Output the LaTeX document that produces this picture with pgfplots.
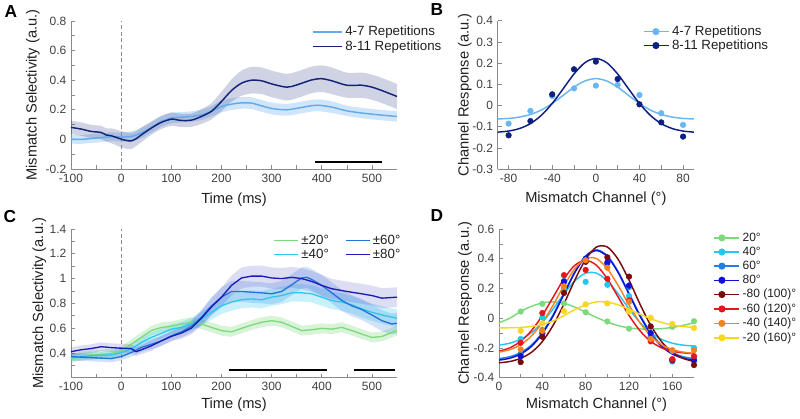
\documentclass[border=0pt]{standalone}
\usepackage{pgfplots}
\pgfplotsset{compat=1.18}
\usepgfplotslibrary{fillbetween}
\usepackage{pgfplotstable}
\usepackage{fontspec}
\setmainfont{Liberation Sans}

\definecolor{axgray}{HTML}{8A8A8A}
\definecolor{tickgray}{HTML}{404040}
\definecolor{labgray}{HTML}{202020}
\definecolor{Alight}{HTML}{64AAEB}
\definecolor{Adark}{HTML}{142378}
\definecolor{Blight}{HTML}{6BB5F0}
\definecolor{Bdark}{HTML}{0D1F80}
\definecolor{Cgreen}{HTML}{7ED87E}
\definecolor{Ccyan}{HTML}{2CC8F0}
\definecolor{Cmed}{HTML}{2573D9}
\definecolor{Cdark}{HTML}{1A1AB8}
\definecolor{Dgreen}{HTML}{7ED87E}
\definecolor{Dcyan}{HTML}{22C8F0}
\definecolor{Dsixty}{HTML}{2080E8}
\definecolor{Deighty}{HTML}{1010D8}
\definecolor{Ddred}{HTML}{7A0A0A}
\definecolor{Dred}{HTML}{E8141E}
\definecolor{Dorange}{HTML}{F58220}
\definecolor{Dyellow}{HTML}{F8D81E}

% ---------- Panel A data ----------
\pgfplotstableread{
x y e
-100 0.002 0.03
-80 0.0 0.03
-50 0.009 0.03
-20 0.018 0.03
0 0.016 0.03
20 0.02 0.035
40 0.043 0.035
60 0.08 0.035
80 0.12 0.035
100 0.144 0.035
120 0.15 0.035
140 0.155 0.035
160 0.166 0.035
180 0.19 0.035
200 0.222 0.04
220 0.238 0.04
240 0.247 0.04
260 0.245 0.04
280 0.227 0.04
300 0.209 0.04
330 0.2 0.04
360 0.216 0.04
390 0.231 0.04
420 0.218 0.04
450 0.193 0.035
480 0.178 0.035
520 0.164 0.035
550 0.155 0.035
}\tAl
\pgfplotstableread{
x y e
-100 0.081 0.045
-80 0.07 0.045
-60 0.054 0.045
-40 0.047 0.045
-30 0.03 0.045
-20 0.025 0.05
0 0.002 0.055
10 -0.007 0.055
20 -0.01 0.055
30 0.005 0.05
40 0.03 0.05
60 0.076 0.045
80 0.115 0.045
100 0.137 0.045
110 0.133 0.045
120 0.128 0.045
140 0.13 0.045
160 0.155 0.05
180 0.19 0.055
200 0.256 0.065
220 0.33 0.075
240 0.38 0.085
260 0.40 0.09
280 0.396 0.09
300 0.375 0.09
330 0.353 0.09
350 0.368 0.09
380 0.402 0.09
400 0.41 0.09
420 0.396 0.09
450 0.366 0.085
480 0.366 0.085
500 0.353 0.085
520 0.33 0.085
550 0.29 0.085
}\tAd

% ---------- Panel C data ----------
\pgfplotstableread{
x y e
-100 0.354 0.035
-80 0.376 0.035
-60 0.384 0.035
-40 0.389 0.035
-20 0.395 0.035
0 0.416 0.035
20 0.47 0.04
40 0.525 0.04
60 0.58 0.04
80 0.606 0.04
100 0.614 0.04
120 0.633 0.04
140 0.647 0.04
160 0.633 0.04
180 0.606 0.04
200 0.58 0.04
220 0.57 0.04
240 0.598 0.04
260 0.625 0.04
280 0.647 0.04
300 0.66 0.04
320 0.647 0.04
340 0.614 0.04
360 0.58 0.04
380 0.587 0.04
400 0.598 0.04
420 0.592 0.04
440 0.606 0.04
460 0.58 0.04
480 0.552 0.04
500 0.525 0.04
520 0.533 0.04
540 0.565 0.04
550 0.58 0.04
}\tCg
\pgfplotstableread{
x y e
-100 0.362 0.03
-60 0.376 0.03
-20 0.384 0.03
0 0.403 0.03
20 0.43 0.035
40 0.484 0.035
60 0.525 0.04
80 0.557 0.04
100 0.592 0.04
120 0.606 0.045
140 0.633 0.05
160 0.674 0.055
180 0.728 0.06
200 0.78 0.065
220 0.81 0.07
240 0.83 0.07
260 0.836 0.07
280 0.828 0.07
300 0.85 0.07
320 0.863 0.07
340 0.885 0.07
360 0.885 0.07
380 0.877 0.07
400 0.85 0.07
420 0.823 0.07
440 0.81 0.07
460 0.788 0.07
480 0.755 0.07
500 0.728 0.07
520 0.706 0.07
550 0.68 0.07
}\tCc
\pgfplotstableread{
x y e
-100 0.37 0.03
-60 0.362 0.03
-20 0.354 0.03
0 0.37 0.03
20 0.403 0.035
40 0.443 0.035
60 0.47 0.04
80 0.497 0.04
100 0.538 0.04
120 0.57 0.045
140 0.614 0.05
160 0.687 0.06
180 0.78 0.07
200 0.85 0.08
220 0.896 0.085
240 0.896 0.085
260 0.89 0.085
280 0.885 0.085
300 0.877 0.085
320 0.896 0.085
340 0.95 0.085
360 1.005 0.085
370 1.01 0.085
380 0.993 0.085
400 0.945 0.085
420 0.885 0.085
440 0.823 0.085
460 0.78 0.085
480 0.75 0.085
500 0.706 0.085
520 0.66 0.085
540 0.633 0.085
550 0.64 0.085
}\tCm
\pgfplotstableread{
x y e
-100 0.41 0.035
-80 0.425 0.035
-60 0.435 0.035
-40 0.45 0.035
-20 0.443 0.035
0 0.438 0.035
20 0.435 0.035
30 0.41 0.035
40 0.425 0.035
60 0.457 0.04
80 0.497 0.04
100 0.533 0.04
120 0.56 0.045
140 0.6 0.05
160 0.68 0.06
180 0.77 0.07
200 0.85 0.075
220 0.945 0.08
240 1.005 0.085
260 1.02 0.085
280 1.02 0.085
300 1.005 0.085
320 1.0 0.085
340 1.01 0.085
360 1.0 0.085
380 0.977 0.085
400 0.945 0.085
420 0.918 0.08
450 0.896 0.08
480 0.877 0.08
500 0.863 0.08
520 0.842 0.08
550 0.85 0.08
}\tCd

\newcommand{\band}[5]{%
  \addplot[name path=#1u, draw=none, forget plot, #5] table[x=x, y expr=\thisrow{y}+\thisrow{e}] {#2};
  \addplot[name path=#1l, draw=none, forget plot, #5] table[x=x, y expr=\thisrow{y}-\thisrow{e}] {#2};
  \addplot[fill=#3, fill opacity=#4, draw=none, forget plot] fill between[of=#1u and #1l];
}

\pgfplotsset{
  panel/.style={
    scale only axis,
    anchor=south west,
    axis x line*=bottom, axis y line*=left,
    tick align=inside,
    axis line style={draw=axgray, line width=0.5pt},
    every tick/.style={draw=axgray, line width=0.5pt},
    major tick length=3pt, minor tick length=3pt,
    ticklabel style={font=\fontsize{9}{10}\selectfont, text=tickgray},
    label style={font=\fontsize{11}{12}\selectfont, text=labgray},
    /pgf/number format/assume math mode=true,
    legend style={draw=none, fill=none, font=\fontsize{10}{11}\selectfont, text=labgray, inner sep=0pt, row sep=-1.8pt},
    legend cell align=left,
    clip=false,
  },
}

\begin{document}
\begin{tikzpicture}

% ================= Panel A =================
\begin{axis}[panel, at={(53.25pt,186.75pt)}, width=244.5pt, height=111pt,
  xmin=-100, xmax=550, ymin=-0.2, ymax=0.8,
  xtick={-100,0,100,200,300,400,500}, minor x tick num=1,
  ytick={-0.2,0,0.2,0.4,0.6,0.8}, minor y tick num=1,
  xlabel={Time (ms)}, ylabel={Mismatch Selectivity (a.u.)},
  xlabel style={at={(axis description cs:0.5,-0.21)}, anchor=center},
  ylabel style={at={(axis description cs:-0.117,0.5)}, anchor=center},
  legend style={at={(axis description cs:0.738,0.985)}, anchor=north west},
  legend image code/.code={\draw[#1] (0pt,0pt) -- (22pt,0pt);},
]
\band{al}{\tAl}{Alight}{0.3}{smooth}
\band{ad}{\tAd}{Adark}{0.2}{smooth}
\addplot[densely dashed, axgray, line width=0.5pt, forget plot] coordinates {(0,-0.2) (0,0.8)};
\addplot[Alight, line width=1.1pt, smooth] table[x=x, y=y] {\tAl};
\addlegendentry{4-7 Repetitions}
\addplot[Adark, line width=1.1pt, smooth] table[x=x, y=y] {\tAd};
\addlegendentry{8-11 Repetitions}
\addplot[black, line width=1.5pt, forget plot] coordinates {(387,-0.15) (520,-0.15)};
\end{axis}

% ================= Panel B =================
\begin{axis}[panel, at={(373.28pt,186.53pt)}, width=147.2pt, height=111.5pt,
  xmin=-90, xmax=90, ymin=-0.3, ymax=0.4,
  xtick={-80,-40,0,40,80}, minor x tick num=1,
  ytick={-0.3,-0.2,-0.1,0,0.1,0.2,0.3,0.4},
  xlabel={Mismatch Channel (°)}, ylabel={Channel Response (a.u.)},
  xlabel style={at={(axis description cs:0.5,-0.195)}, anchor=center},
  ylabel style={at={(axis description cs:-0.167,0.5)}, anchor=center},
  legend style={at={(axis description cs:0.74,0.985)}, anchor=north west, row sep=-2.3pt},
  legend image code/.code={\draw[#1] (0pt,0pt) -- (18.5pt,0pt); \fill[#1] (9pt,0pt) circle (2.1pt);},
]
\addplot[Blight, line width=1.1pt, smooth] coordinates {
(-90,-0.063) (-80,-0.0605) (-70,-0.054) (-60,-0.042) (-50,-0.021) (-40,0.010) (-30,0.048) (-20,0.087) (-10,0.116) (0,0.127)
(10,0.116) (20,0.087) (30,0.048) (40,0.010) (50,-0.021) (60,-0.042) (70,-0.054) (80,-0.0605) (90,-0.063)};
\addlegendentry{4-7 Repetitions}
\addplot[Bdark, line width=1.1pt, smooth] coordinates {
(-90,-0.125) (-80,-0.120) (-70,-0.108) (-60,-0.085) (-50,-0.046) (-40,0.010) (-30,0.079) (-20,0.149) (-10,0.202) (0,0.222)
(10,0.202) (20,0.149) (30,0.079) (40,0.010) (50,-0.046) (60,-0.085) (70,-0.108) (80,-0.120) (90,-0.125)};
\addlegendentry{8-11 Repetitions}
\addplot[only marks, mark=*, mark size=2.1pt, Blight, forget plot] coordinates {
(-80,-0.085) (-60,-0.025) (-40,0.045) (-20,0.081) (0,0.094) (20,0.097) (40,0.05) (60,-0.036) (80,-0.091)};
\addplot[only marks, mark=*, mark size=2.1pt, Bdark, forget plot] coordinates {
(-80,-0.14) (-60,-0.073) (-40,0.053) (-20,0.171) (0,0.207) (20,0.125) (40,0.006) (60,-0.079) (80,-0.146)};
\end{axis}

% ================= Panel C =================
\begin{axis}[panel, at={(53.25pt,30.23pt)}, width=244.5pt, height=111.5pt,
  xmin=-100, xmax=550, ymin=0.2, ymax=1.4,
  xtick={-100,0,100,200,300,400,500}, minor x tick num=1,
  ytick={0.2,0.4,0.6,0.8,1,1.2,1.4}, minor y tick num=1,
  yticklabels={,0.4,0.6,0.8,1,1.2,1.4},
  xlabel={Time (ms)}, ylabel={Mismatch Selectivity (a.u.)},
  xlabel style={at={(axis description cs:0.5,-0.185)}, anchor=center},
  ylabel style={at={(axis description cs:-0.097,0.5)}, anchor=center},
  legend columns=2,
  legend style={at={(axis description cs:0.62,0.98)}, anchor=north west, /tikz/every even column/.append style={column sep=10pt}},
  legend image code/.code={\draw[#1] (0pt,0pt) -- (18pt,0pt);},
]
\band{cg}{\tCg}{Cgreen}{0.3}{}
\band{cc}{\tCc}{Ccyan}{0.25}{}
\band{cm}{\tCm}{Cmed}{0.2}{}
\band{cd}{\tCd}{Cdark}{0.15}{}
\addplot[densely dashed, axgray, line width=0.5pt, forget plot] coordinates {(0,0.2) (0,1.4)};
\addplot[Cgreen, line width=1pt, forget plot] table[x=x, y=y] {\tCg};
\addplot[Ccyan, line width=1pt, forget plot] table[x=x, y=y] {\tCc};
\addplot[Cmed, line width=1pt, forget plot] table[x=x, y=y] {\tCm};
\addplot[Cdark, line width=1pt, forget plot] table[x=x, y=y] {\tCd};
\addlegendimage{Cgreen, line width=1pt}\addlegendentry{±20°}
\addlegendimage{Cmed, line width=1pt}\addlegendentry{±60°}
\addlegendimage{Ccyan, line width=1pt}\addlegendentry{±40°}
\addlegendimage{Cdark, line width=1pt}\addlegendentry{±80°}
\addplot[black, line width=1.5pt, forget plot] coordinates {(215,0.26) (410,0.26)};
\addplot[black, line width=1.5pt, forget plot] coordinates {(465,0.26) (547,0.26)};
\end{axis}

% ================= Panel D =================
\begin{axis}[panel, at={(374.25pt,30.23pt)}, width=146.25pt, height=111.5pt,
  xmin=0, xmax=180, ymin=-0.4, ymax=0.6,
  xtick={0,40,80,120,160}, minor x tick num=1,
  ytick={-0.4,-0.2,0,0.2,0.4,0.6}, minor y tick num=1,
  xlabel={Mismatch Channel (°)}, ylabel={Channel Response (a.u.)},
  xlabel style={at={(axis description cs:0.5,-0.185)}, anchor=center},
  ylabel style={at={(axis description cs:-0.174,0.5)}, anchor=center},
  legend style={at={(axis description cs:1.097,0.995)}, anchor=north west, font=\fontsize{9}{10}\selectfont, row sep=-1.2pt},
  legend image code/.code={\draw[#1] (0pt,0pt) -- (19pt,0pt); \fill[#1] (6pt,0pt) circle (2.1pt);},
]
\addplot[Dgreen, line width=1.1pt, smooth] coordinates {
(0,-0.03) (10,0.0) (20,0.045) (30,0.08) (40,0.103) (50,0.11) (60,0.1) (70,0.075) (80,0.04) (90,0.005)
(100,-0.025) (110,-0.05) (120,-0.065) (130,-0.072) (140,-0.073) (150,-0.07) (160,-0.062) (170,-0.048) (180,-0.03)};
\addlegendentry{20°}
\addplot[Dcyan, line width=1.1pt, smooth] coordinates {
(0,-0.181) (10,-0.168) (20,-0.142) (30,-0.097) (40,-0.028) (50,0.063) (60,0.164) (70,0.251) (80,0.303) (90,0.303)
(100,0.251) (110,0.164) (120,0.063) (130,-0.028) (140,-0.097) (150,-0.142) (160,-0.168) (170,-0.181) (180,-0.187)};
\addlegendentry{40°}
\addplot[Dsixty, line width=1.1pt, smooth] coordinates {
(0,-0.272) (10,-0.259) (20,-0.231) (30,-0.180) (40,-0.096) (50,0.024) (60,0.169) (70,0.313) (80,0.420) (90,0.46)
(100,0.420) (110,0.313) (120,0.169) (130,0.024) (140,-0.096) (150,-0.180) (160,-0.231) (170,-0.259) (180,-0.272)};
\addlegendentry{60°}
\addplot[Deighty, line width=1.1pt, smooth] coordinates {
(0,-0.282) (10,-0.269) (20,-0.241) (30,-0.189) (40,-0.104) (50,0.016) (60,0.162) (70,0.307) (80,0.415) (90,0.455)
(100,0.415) (110,0.307) (120,0.162) (130,0.016) (140,-0.104) (150,-0.189) (160,-0.241) (170,-0.269) (180,-0.282)};
\addlegendentry{80°}
\addplot[Ddred, line width=1.1pt, smooth] coordinates {
(0,-0.300) (10,-0.291) (20,-0.270) (30,-0.229) (40,-0.157) (50,-0.047) (60,0.097) (70,0.257) (80,0.396) (90,0.479)
(100,0.479) (110,0.396) (120,0.257) (130,0.097) (140,-0.047) (150,-0.157) (160,-0.229) (170,-0.270) (180,-0.291)};
\addlegendentry{-80 (100)°}
\addplot[Dred, line width=1.1pt, smooth] coordinates {
(0,-0.222) (10,-0.199) (20,-0.155) (30,-0.083) (40,0.019) (50,0.142) (60,0.265) (70,0.356) (80,0.39) (90,0.356)
(100,0.265) (110,0.142) (120,0.019) (130,-0.083) (140,-0.155) (150,-0.199) (160,-0.222) (170,-0.233) (180,-0.238)};
\addlegendentry{-60 (120)°}
\addplot[Dorange, line width=1.1pt, smooth] coordinates {
(0,-0.228) (10,-0.211) (20,-0.178) (30,-0.119) (40,-0.029) (50,0.089) (60,0.220) (70,0.333) (80,0.401) (90,0.401)
(100,0.333) (110,0.220) (120,0.089) (130,-0.029) (140,-0.119) (150,-0.178) (160,-0.211) (170,-0.228) (180,-0.236)};
\addlegendentry{-40 (140)°}
\addplot[Dyellow, line width=1.1pt, smooth] coordinates {
(0,-0.065) (10,-0.064) (20,-0.062) (30,-0.055) (40,-0.042) (50,-0.018) (60,0.018) (70,0.058) (80,0.09) (90,0.11)
(100,0.108) (110,0.09) (120,0.06) (130,0.027) (140,-0.003) (150,-0.028) (160,-0.045) (170,-0.056) (180,-0.062)};
\addlegendentry{-20 (160)°}
\addplot[only marks, mark=*, mark size=2.1pt, Dgreen, forget plot] coordinates {
(20,0.045) (40,0.097) (60,0.10) (80,0.04) (100,-0.022) (120,-0.07) (140,-0.062) (160,-0.058) (180,-0.02)};
\addplot[only marks, mark=*, mark size=2.1pt, Dcyan, forget plot] coordinates {
(20,-0.14) (40,0.005) (60,0.20) (80,0.245) (100,0.225) (120,0.15) (140,-0.10) (160,-0.22) (180,-0.20)};
\addplot[only marks, mark=*, mark size=2.1pt, Dsixty, forget plot] coordinates {
(20,-0.24) (40,-0.08) (60,0.25) (80,0.38) (100,0.37) (120,0.21) (140,-0.12) (160,-0.29) (180,-0.27)};
\addplot[only marks, mark=*, mark size=2.1pt, Deighty, forget plot] coordinates {
(20,-0.255) (40,-0.10) (60,0.245) (80,0.40) (100,0.375) (120,0.22) (140,-0.10) (160,-0.28) (180,-0.285)};
\addplot[only marks, mark=*, mark size=2.1pt, Ddred, forget plot] coordinates {
(20,-0.295) (40,-0.125) (60,0.17) (80,0.38) (100,0.41) (120,0.28) (140,-0.055) (160,-0.28) (180,-0.315)};
\addplot[only marks, mark=*, mark size=2.1pt, Dred, forget plot] coordinates {
(20,-0.165) (40,0.035) (60,0.29) (80,0.325) (100,0.265) (120,0.12) (140,-0.155) (160,-0.275) (180,-0.255)};
\addplot[only marks, mark=*, mark size=2.1pt, Dorange, forget plot] coordinates {
(20,-0.21) (40,-0.085) (60,0.215) (80,0.39) (100,0.34) (120,0.11) (140,-0.14) (160,-0.215) (180,-0.215)};
\addplot[only marks, mark=*, mark size=2.1pt, Dyellow, forget plot] coordinates {
(20,-0.085) (40,-0.035) (60,0.048) (80,0.093) (100,0.10) (120,0.045) (140,0.003) (160,-0.038) (180,-0.065)};
\end{axis}

% panel letters
\node[font=\bfseries\fontsize{13}{14}\selectfont, text=black] at (8.25pt,304.5pt) {A};
\node[font=\bfseries\fontsize{13}{14}\selectfont, text=black] at (327.75pt,306pt) {B};
\node[font=\bfseries\fontsize{13}{14}\selectfont, text=black] at (7.5pt,150.75pt) {C};
\node[font=\bfseries\fontsize{13}{14}\selectfont, text=black] at (327.75pt,151.5pt) {D};

\pgfresetboundingbox
\path[use as bounding box] (0pt,0pt) rectangle (600pt,313.5pt);
\end{tikzpicture}
\end{document}
